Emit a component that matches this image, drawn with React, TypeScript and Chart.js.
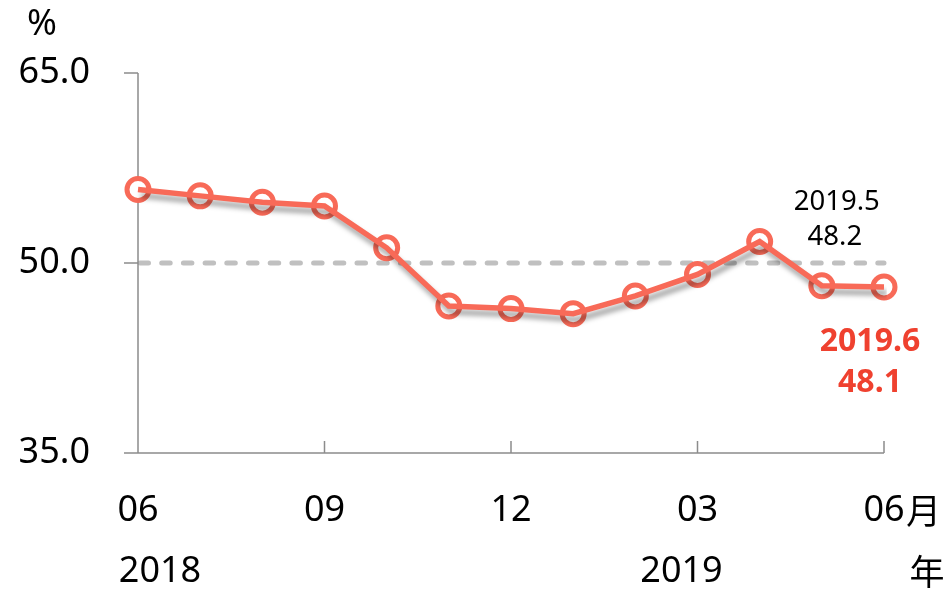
import React, { useEffect, useRef } from "react";
import { Chart, registerables } from "chart.js";

Chart.register(...registerables);

const months = ["06", "07", "08", "09", "10", "11", "12", "01", "02", "03", "04", "05", "06"];
const values = [55.8, 55.3, 54.8, 54.5, 51.2, 46.6, 46.4, 46.0, 47.4, 49.1, 51.7, 48.2, 48.1];
const shownMonthIdx = [0, 3, 6, 9, 12];
const yTicks = [35, 50, 65];
const years = [
  { label: "2018", idx: 0, dx: 22 },
  { label: "2019", idx: 9, dx: -16 },
];
const refValue = 50;
const noteMay = ["2019.5", "48.2"];
const noteJun = ["2019.6", "48.1"];

const LINE = "#F86A58";
const RED_TEXT = "#EF412F";
const AXIS = "#8C8C8C";
const FONT = "'Noto Sans', 'Noto Sans CJK SC', sans-serif";

export default function App() {
  const ref = useRef<HTMLCanvasElement>(null);
  useEffect(() => {
    const canvas = ref.current!;
    const decor = {
      id: "decor",
      beforeDatasetsDraw(chart: any) {
        const { ctx, chartArea, scales } = chart;
        const y = scales.y.getPixelForValue(refValue);
        ctx.save();
        ctx.strokeStyle = "#C0C0C0";
        ctx.lineWidth = 5;
        ctx.lineCap = "round";
        ctx.setLineDash([8.5, 13.2]);
        ctx.beginPath();
        ctx.moveTo(chartArea.left + 2, y);
        ctx.lineTo(chartArea.right, y);
        ctx.stroke();
        ctx.restore();

        // axes
        ctx.save();
        ctx.strokeStyle = AXIS;
        ctx.lineWidth = 1.5;
        ctx.beginPath();
        const x0 = chartArea.left;
        const yb = scales.y.getPixelForValue(35);
        const yt = scales.y.getPixelForValue(65);
        ctx.moveTo(x0, yt);
        ctx.lineTo(x0, yb);
        ctx.moveTo(x0 - 14, yb);
        ctx.lineTo(chartArea.right, yb);
        yTicks.forEach((v) => {
          const py = scales.y.getPixelForValue(v);
          ctx.moveTo(x0 - 14, py);
          ctx.lineTo(x0, py);
        });
        shownMonthIdx.forEach((i) => {
          const px = scales.x.getPixelForValue(i);
          ctx.moveTo(px, yb);
          ctx.lineTo(px, yb - 12);
        });
        ctx.stroke();

        ctx.fillStyle = "#000";
        ctx.font = `36px ${FONT}`;
        ctx.textAlign = "right";
        ctx.textBaseline = "middle";
        yTicks.forEach((v) => {
          ctx.fillText(v.toFixed(1), 90, scales.y.getPixelForValue(v));
        });
        ctx.textAlign = "center";
        shownMonthIdx.forEach((i) => {
          ctx.fillText(months[i], scales.x.getPixelForValue(i), yb + 58);
        });
        years.forEach((yr) => {
          ctx.fillText(yr.label, scales.x.getPixelForValue(yr.idx) + yr.dx, yb + 119);
        });
        const lastX = scales.x.getPixelForValue(months.length - 1);
        ctx.textAlign = "left";
        ctx.font = `35px 'Noto Sans CJK SC', sans-serif`;
        ctx.fillText("月", lastX + 22, yb + 58);
        ctx.textAlign = "center";
        ctx.fillText("年", lastX + 43, yb + 119);
        ctx.font = `36px ${FONT}`;
        ctx.fillText("%", 42, 25);
        ctx.restore();
      },
      afterDatasetsDraw(chart: any) {
        const { ctx, scales } = chart;
        ctx.save();
        ctx.textAlign = "center";
        ctx.textBaseline = "middle";
        const mx = scales.x.getPixelForValue(11);
        const my = scales.y.getPixelForValue(values[11]);
        ctx.fillStyle = "#000";
        ctx.font = `27.5px ${FONT}`;
        ctx.fillText(noteMay[0], mx + 15, my - 84);
        ctx.fillText(noteMay[1], mx + 13, my - 49);
        const jx = scales.x.getPixelForValue(12);
        const jy = scales.y.getPixelForValue(values[12]);
        ctx.fillStyle = RED_TEXT;
        ctx.font = `bold 32px ${FONT}`;
        ctx.fillText(noteJun[0], jx - 14, jy + 55);
        ctx.fillText(noteJun[1], jx - 14, jy + 96);
        ctx.restore();
      },
      beforeDatasetDraw(chart: any, args: any) {
        if (args.index === 0) {
          const ctx = chart.ctx;
          ctx.save();
          ctx.shadowColor = "rgba(0,0,0,0.35)";
          ctx.shadowBlur = 5;
          ctx.shadowOffsetX = 3;
          ctx.shadowOffsetY = 6;
        }
      },
      afterDatasetDraw(chart: any, args: any) {
        if (args.index === 0) chart.ctx.restore();
      },
    };

    const chart = new Chart(canvas, {
      type: "line",
      data: {
        labels: months,
        datasets: [
          {
            data: values,
            borderColor: LINE,
            borderWidth: 5.5,
            pointRadius: 0,
            tension: 0,
            fill: false,
          },
          {
            data: values,
            showLine: false,
            pointRadius: 11,
            pointBorderWidth: 5,
            pointBorderColor: LINE,
            pointBackgroundColor: "#fff",
          },
        ],
      },
      options: {
        responsive: false,
        animation: false,
        layout: { padding: { left: 138, right: 63, top: 73, bottom: 138 } },
        plugins: { legend: { display: false }, tooltip: { enabled: false } },
        scales: {
          x: { display: false, offset: false },
          y: { display: false, min: 35, max: 65 },
        },
      },
      plugins: [decor],
    });
    return () => chart.destroy();
  }, []);

  return (
    <div style={{ position: "fixed", left: 0, top: 0, width: 947, height: 591, background: "#fff" }}>
      <canvas ref={ref} width={947} height={591} style={{ display: "block" }} />
    </div>
  );
}
